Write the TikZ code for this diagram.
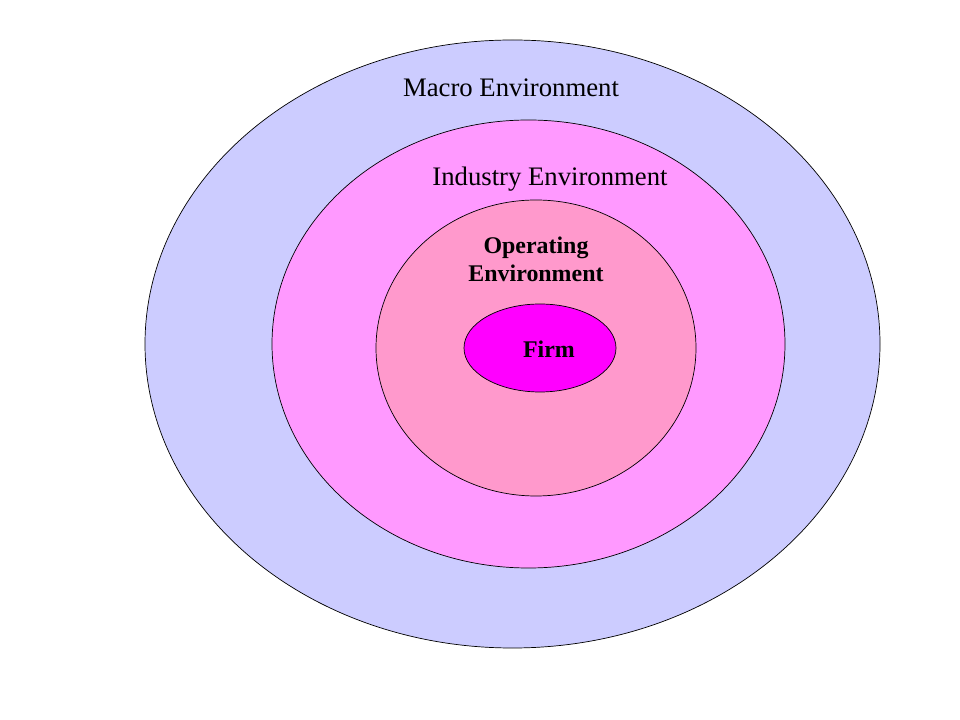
\documentclass[tikz,border=0pt]{standalone}
\usepackage{fontspec}
\setmainfont{Liberation Serif}
\usetikzlibrary{shapes.geometric}
\usetikzlibrary{positioning}
\definecolor{macrocol}{HTML}{CCCCFF}
\definecolor{industrycol}{HTML}{FF99FF}
\definecolor{operatingcol}{HTML}{FF99CC}
\definecolor{firmcol}{HTML}{FF00FF}
\tikzset{
  ring/.style={ellipse, draw=black, line width=0.5pt, inner sep=0pt},
  lbl/.style={font=\fontsize{19}{23}\selectfont, inner sep=0pt},
  blbl/.style={font=\fontsize{17}{20}\selectfont\bfseries, inner sep=0pt, align=center},
}
\begin{document}
\begin{tikzpicture}[x=0.025cm,y=-0.025cm]
    \useasboundingbox (0,0) rectangle (960,720);

    % Rings
    \node[ring, fill=macrocol, minimum width=735*0.025cm, minimum height=608*0.025cm] (macro) at (512.5,344) {};
    \node[ring, fill=industrycol, minimum width=513*0.025cm, minimum height=448*0.025cm] (industry) at (528.5,344) {};
    \node[ring, fill=operatingcol, minimum width=320*0.025cm, minimum height=296*0.025cm] (operating) at (536,348) {};
    \node[ring, fill=firmcol, minimum width=152*0.025cm, minimum height=88*0.025cm] (firm) at (540,348) {};

    % Labels
    \node[lbl] (macrolbl) at (511,88) {Macro Environment};
    \node[lbl] (industrylbl) at (550,179) {Industry Environment};
    \node[blbl] (operatinglbl) at (536,259) {Operating\\Environment};
    \node[blbl] (firmlbl) at (549,349) {Firm};
\end{tikzpicture}
\end{document}
